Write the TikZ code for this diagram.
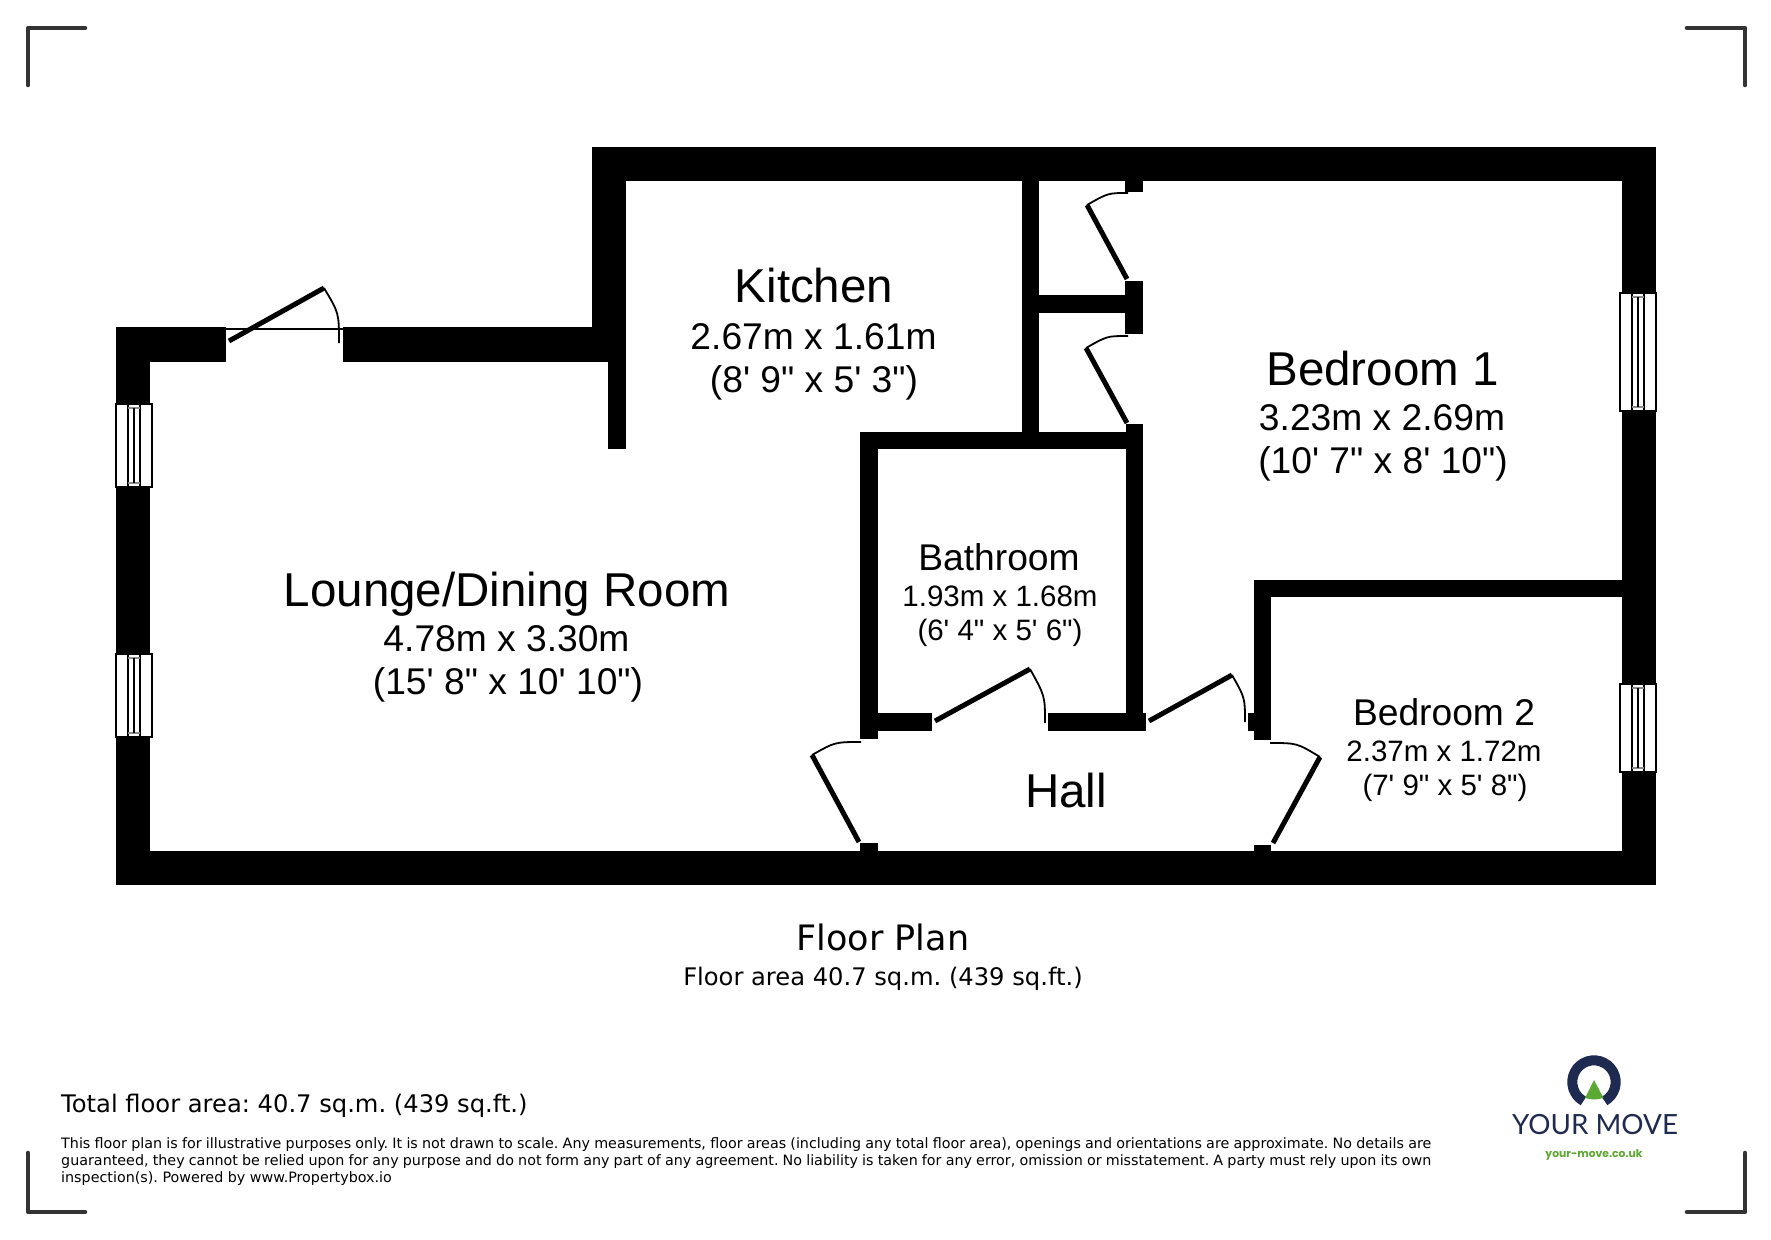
\documentclass[tikz,border=0pt]{standalone}
\usepackage{fontspec}
\newfontfamily\roomfont{Liberation Sans}
\newfontfamily\notefont{DejaVu Sans}
\newfontfamily\logofont{Lato}
\newfontfamily\webfont{Poppins}
\usetikzlibrary{positioning}
\frenchspacing
\definecolor{logonavy}{HTML}{1F2A50}
\definecolor{logogreen}{HTML}{5BA832}
\definecolor{markgrey}{HTML}{333333}
\newcommand{\planwindow}[3]{%
  \draw[paneline, fill=white] (#1,#2) rectangle (#1+36,#3);
  \draw[paneline] (#1+12,#2) -- (#1+12,#3);
  \draw[paneline] (#1+24,#2) -- (#1+24,#3);
  \draw[sashline] (#1+12,#2+4) -- (#1+24,#2+4);
  \draw[sashline] (#1+12,#3-4) -- (#1+24,#3-4);
  \draw[paneline, line width=1.4pt] (#1+18,#2+4) -- (#1+18,#3-4);
}
\tikzset{
  wall/.style={fill=black},
  doorleaf/.style={line width=5pt, black},
  doorswing/.style={line width=1.8pt, black},
  paneline/.style={line width=1.9pt, black},
  sashline/.style={line width=1.2pt, black!45},
  cropmark/.style={line width=4.6pt, markgrey, line cap=round, line join=round},
  roomtitle/.style={anchor=base, inner sep=0pt, font=\roomfont\fontsize{47.5}{50}\selectfont},
  roomsize/.style={anchor=base, inner sep=0pt, font=\roomfont\fontsize{37.2}{40}\selectfont},
  smalltitle/.style={anchor=base, inner sep=0pt, font=\roomfont\fontsize{37.2}{40}\selectfont},
  smallsize/.style={anchor=base, inner sep=0pt, font=\roomfont\fontsize{29.5}{32}\selectfont},
  noteline/.style={anchor=base west, inner sep=0pt, font=\notefont\fontsize{14.3}{17}\selectfont}
}

\begin{document}
\begin{tikzpicture}[x=1pt,y=-1pt]
\useasboundingbox (0,0) rectangle (1771,1239);
\fill[white] (0,0) rectangle (1771,1239);
\draw[cropmark] (28,85) -- (28,28) -- (85,28);
\draw[cropmark] (1687,28) -- (1745,28) -- (1745,85);
\draw[cropmark] (28,1153) -- (28,1212) -- (85,1212);
\draw[cropmark] (1687,1212) -- (1745,1212) -- (1745,1153);
\fill[wall] (116,327) rectangle (226,362);
\fill[wall] (343,327) rectangle (626,362);
\fill[wall] (116,327) rectangle (150,885);
\fill[wall] (116,851) rectangle (1656,885);
\fill[wall] (592,147) rectangle (1656,181);
\fill[wall] (592,147) rectangle (626,362);
\fill[wall] (608,362) rectangle (626,449);
\fill[wall] (1622,147) rectangle (1656,885);
\fill[wall] (1022,181) rectangle (1039,432);
\fill[wall] (1039,295) rectangle (1125,313);
\fill[wall] (1125,181) rectangle (1143,192);
\fill[wall] (1125,281) rectangle (1143,334);
\fill[wall] (860,432) rectangle (1143,449);
\fill[wall] (1126,424) rectangle (1143,731);
\fill[wall] (860,432) rectangle (878,739);
\fill[wall] (878,713) rectangle (932,731);
\fill[wall] (1048,713) rectangle (1146,731);
\fill[wall] (860,843) rectangle (878,851);
\fill[wall] (1254,580) rectangle (1622,597);
\fill[wall] (1254,580) rectangle (1271,740);
\fill[wall] (1248,713) rectangle (1254,731);
\fill[wall] (1254,845) rectangle (1271,851);
\planwindow{116}{404}{487}
\planwindow{116}{654}{737}
\planwindow{1620}{293}{411}
\planwindow{1620}{684}{772}
\draw[line width=2pt] (226,329) -- (343,329);
\draw[doorleaf] (229,341) -- (324,288);
\draw[doorswing] (324,288) .. controls (339,313) .. (339,343);
\draw[doorleaf] (1127,279) -- (1087,205);
\draw[doorswing] (1087,205) .. controls (1108,193) .. (1128,193);
\draw[doorleaf] (1127,423) -- (1086,348);
\draw[doorswing] (1086,348) .. controls (1107,336) .. (1128,336);
\draw[doorleaf] (935,721) -- (1030,669);
\draw[doorswing] (1030,669) .. controls (1045,696) .. (1045,723);
\draw[doorleaf] (1149,721) -- (1232,675);
\draw[doorswing] (1232,675) .. controls (1245,698) .. (1245,722);
\draw[doorleaf] (859,842) -- (812,755);
\draw[doorswing] (812,755) .. controls (835,742) .. (861,742);
\draw[doorleaf] (1273,843) -- (1320,757);
\draw[doorswing] (1320,757) .. controls (1297,743) .. (1270,743);
\node[roomtitle] (loungetitle) at (507,606) {Lounge/Dining Room};
\node[roomsize] (loungemetric) at (506.5,651.5) {4.78m x 3.30m};
\node[roomsize] (loungeimperial) at (508,694.5) {(15' 8" x 10' 10")};
\node[roomtitle] (kitchentitle) at (814,302) {Kitchen};
\node[roomsize] (kitchenmetric) at (813.5,349) {2.67m x 1.61m};
\node[roomsize] (kitchenimperial) at (814,392) {(8' 9" x 5' 3")};
\node[roomtitle] (bedonetitle) at (1382.5,385) {Bedroom 1};
\node[roomsize] (bedonemetric) at (1382,430.5) {3.23m x 2.69m};
\node[roomsize] (bedoneimperial) at (1383,473.5) {(10' 7" x 8' 10")};
\node[smalltitle] (bathtitle) at (999,570.5) {Bathroom};
\node[smallsize] (bathmetric) at (1000,606) {1.93m x 1.68m};
\node[smallsize] (bathimperial) at (1000,640) {(6' 4" x 5' 6")};
\node[roomtitle] (halltitle) at (1066,807) {Hall};
\node[smalltitle] (bedtwotitle) at (1444,725.5) {Bedroom 2};
\node[smallsize] (bedtwometric) at (1444,761.5) {2.37m x 1.72m};
\node[smallsize] (bedtwoimperial) at (1445,795.5) {(7' 9" x 5' 8")};
\node[anchor=base, inner sep=0pt, font=\notefont\fontsize{35}{38}\selectfont] (plantitle) at (883,950) {Floor Plan};
\node[anchor=base, inner sep=0pt, font=\notefont\fontsize{24.2}{27}\selectfont] (planarea) at (883,985) {Floor area 40.7 sq.m. (439 sq.ft.)};
\node[anchor=base west, inner sep=0pt, font=\notefont\fontsize{24.2}{27}\selectfont] (totalarea) at (61,1112) {Total floor area: 40.7 sq.m. (439 sq.ft.)};
\node[noteline] (noteone) at (61,1148) {\makebox[1370pt][s]{This floor plan is for illustrative purposes only. It is not drawn to scale. Any measurements, floor areas (including any total floor area), openings and orientations are approximate. No details are}};
\node[noteline] (notetwo) at (61,1165) {\makebox[1370pt][s]{guaranteed, they cannot be relied upon for any purpose and do not form any part of any agreement. No liability is taken for any error, omission or misstatement. A party must rely upon its own}};
\node[noteline] (notethree) at (61,1182) {inspection(s). Powered by www.Propertybox.io};
\draw[logonavy, line width=10pt] (1604.5,1101) arc[start angle=-61, end angle=241, radius=21.7pt];
\fill[logogreen] (1594,1080) -- (1603.5,1098) .. controls (1594,1100) .. (1585,1098) -- cycle;
\node[anchor=base, inner sep=0pt, text=logonavy, font=\logofont\fontsize{27.8}{30}\selectfont] (logoname) at (1595,1134) {YOUR MOVE};
\node[anchor=base, inner sep=0pt, text=logogreen, font=\webfont\bfseries\fontsize{10.8}{13}\selectfont] (logoweb) at (1594,1157) {your-move.co.uk};
\end{tikzpicture}
\end{document}
